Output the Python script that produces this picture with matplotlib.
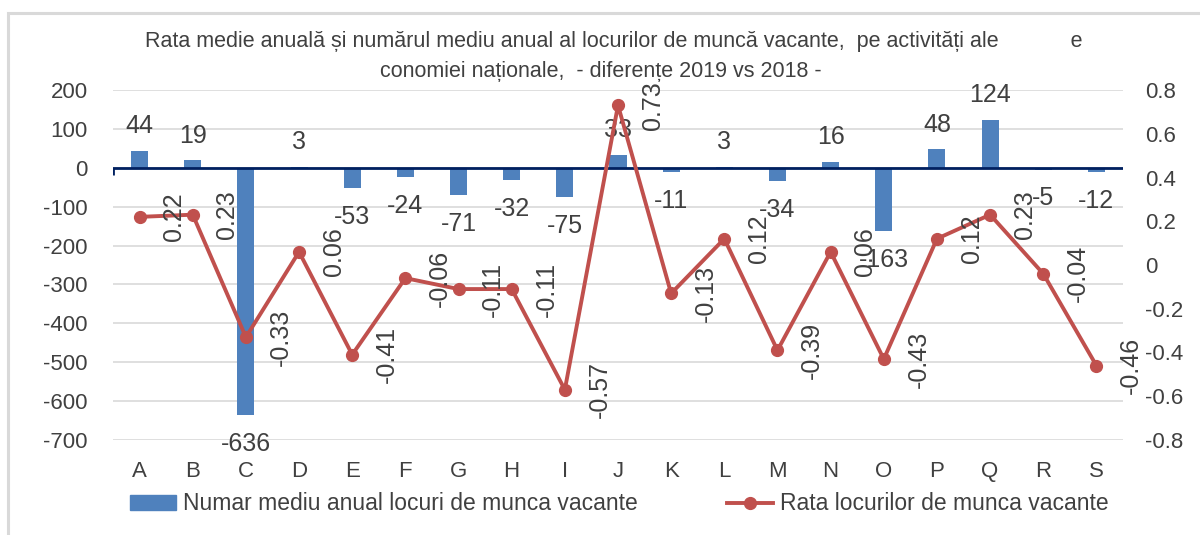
import matplotlib
matplotlib.use("Agg")
import matplotlib.pyplot as plt
from matplotlib.patches import Rectangle, Patch
from matplotlib.lines import Line2D
from matplotlib import font_manager
import numpy as np

# --- data -----------------------------------------------------------------
categories = ["A", "B", "C", "D", "E", "F", "G", "H", "I", "J",
              "K", "L", "M", "N", "O", "P", "Q", "R", "S"]
vacancies_diff = [44, 19, -636, 3, -53, -24, -71, -32, -75, 33,
                  -11, 3, -34, 16, -163, 48, 124, -5, -12]
rate_diff = [0.22, 0.23, -0.33, 0.06, -0.41, -0.06, -0.11, -0.11, -0.57, 0.73,
             -0.13, 0.12, -0.39, 0.06, -0.43, 0.12, 0.23, -0.04, -0.46]
left_ticks = [200, 100, 0, -100, -200, -300, -400, -500, -600, -700]
right_ticks = [0.8, 0.6, 0.4, 0.2, 0, -0.2, -0.4, -0.6, -0.8]
title_line1 = "Rata medie anuală și numărul mediu anual al locurilor de muncă vacante,  pe activități ale            e"
title_line2 = "conomiei naționale,  - diferențe 2019 vs 2018 -"
bar_label = "Numar mediu anual locuri de munca vacante"
line_label = "Rata locurilor de munca vacante"

# --- style ----------------------------------------------------------------
available = {f.name for f in font_manager.fontManager.ttflist}
family = [f for f in ["Liberation Sans Narrow", "Liberation Sans", "DejaVu Sans"] if f in available]
plt.rcParams["font.family"] = family
TXT = "#404040"
BLUE = "#4F81BD"
RED = "#C0504D"
GRID = "#D9D9D9"
NAVY = "#002060"

fig = plt.figure(figsize=(12, 5.35), dpi=100)
fig.patch.set_facecolor("white")

# outer frame
fig.patches.append(Rectangle((8 / 1200, -0.05), 1.2, 1 - 13 / 535 + 0.05,
                             transform=fig.transFigure, fill=False,
                             edgecolor=GRID, linewidth=2.2))

ax = fig.add_axes([113 / 1200, 1 - 440 / 535, 1010 / 1200, 350 / 535])
x = np.arange(len(categories))

ax.bar(x, vacancies_diff, width=0.32, color=BLUE, zorder=2)
ax.set_xlim(-0.5, len(categories) - 0.5)
ax.set_ylim(-700, 200)
ax.set_yticks(left_ticks)
ax.set_yticklabels([str(v) for v in left_ticks])
ax.yaxis.grid(True, color=GRID, linewidth=1.2, zorder=0)
ax.set_axisbelow(True)
ax.set_xticks(x)
ax.set_xticklabels(categories)
ax.tick_params(axis="x", length=0, pad=15, labelsize=16, labelcolor=TXT)
ax.tick_params(axis="y", length=0, pad=18, labelsize=16, labelcolor=TXT)
for s in ax.spines.values():
    s.set_visible(False)

# category axis at zero
ax.axhline(0, color=NAVY, linewidth=2, zorder=3)
ax.vlines(-0.5, -18, 0, color=NAVY, linewidth=2, zorder=3)

for xi, v in zip(x, vacancies_diff):
    if v >= 0:
        ax.annotate(str(v), (xi, v), xytext=(0, 9), textcoords="offset points",
                    ha="center", va="bottom", fontsize=18, color=TXT)
    else:
        ax.annotate(str(v), (xi, v), xytext=(0, -12), textcoords="offset points",
                    ha="center", va="top", fontsize=18, color=TXT)

ax2 = ax.twinx()
ax2.plot(x, rate_diff, color=RED, linewidth=2.8, marker="o", markersize=8.5, zorder=4)
ax2.set_ylim(-0.8, 0.8)
ax2.set_yticks(right_ticks)
ax2.set_yticklabels([f"{v:g}" for v in right_ticks])
ax2.tick_params(axis="y", length=0, pad=16, labelsize=16, labelcolor=TXT)
for s in ax2.spines.values():
    s.set_visible(False)

for xi, v in zip(x, rate_diff):
    ax2.annotate(f"{v:g}", (xi, v), xytext=(25, 0), textcoords="offset points",
                 ha="center", va="center", rotation=90, fontsize=18, color=TXT,
                 zorder=5)

# title
fig.text(614 / 1200, 1 - 42 / 535, title_line1, ha="center", va="center",
         fontsize=15.5, color=TXT)
fig.text(601 / 1200, 1 - 71 / 535, title_line2, ha="center", va="center",
         fontsize=15.5, color=TXT)

# legend
handles = [Patch(facecolor=BLUE, edgecolor=BLUE),
           Line2D([0], [0], color=RED, linewidth=2.8, marker="o", markersize=8.5)]
fig.legend(handles, [bar_label, line_label], ncol=2, frameon=False,
           loc="center left", bbox_to_anchor=(130 / 1200, 1 - 504 / 535),
           fontsize=16.5, labelcolor=TXT, handlelength=2.0, handleheight=0.6,
           handletextpad=0.3, columnspacing=3.9, borderpad=0, borderaxespad=0)

fig.savefig("out.png", dpi=100, facecolor="white")
